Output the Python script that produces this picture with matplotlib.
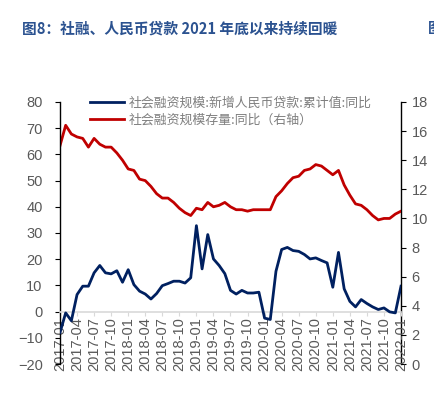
import matplotlib
matplotlib.use("Agg")
import matplotlib.pyplot as plt
import numpy as np
import pandas as pd

plt.rcParams["font.family"] = ["Liberation Sans", "Noto Sans CJK SC", "DejaVu Sans"]

# monthly, 2017-01 .. 2022-01
months = pd.date_range("2017-01", "2022-01", freq="MS").strftime("%Y-%m").tolist()

# 社会融资规模:新增人民币贷款:累计值:同比 (left axis, %)
loan_yoy = [
    -8.0, -0.5, -3.5, 6.5, 9.7, 9.7, 14.8, 17.6, 14.8, 14.4, 15.6, 11.2,
    16.0, 10.3, 7.8, 6.7, 4.8, 6.9, 9.9, 10.7, 11.6, 11.6, 10.9, 12.9,
    32.8, 16.3, 29.4, 20.1, 17.6, 14.5, 8.1, 6.7, 8.1, 7.1, 7.1, 7.4,
    -2.5, -3.0, 15.4, 23.7, 24.5, 23.3, 23.0, 21.8, 20.1, 20.5, 19.5, 18.6,
    9.3, 22.6, 8.7, 3.9, 1.8, 4.6, 3.1, 1.8, 0.8, 1.4, -0.1, -0.5, 9.7,
]

# 社会融资规模存量:同比 (right axis, %)
tsf_yoy = [
    15.0, 16.4, 15.8, 15.6, 15.5, 14.9, 15.5, 15.1, 14.9, 14.9, 14.5, 14.0,
    13.4, 13.3, 12.7, 12.6, 12.2, 11.7, 11.4, 11.4, 11.1, 10.7, 10.4, 10.2,
    10.7, 10.6, 11.1, 10.8, 10.9, 11.1, 10.8, 10.6, 10.6, 10.5, 10.6, 10.6,
    10.6, 10.6, 11.5, 11.9, 12.4, 12.8, 12.9, 13.3, 13.4, 13.7, 13.6, 13.3,
    13.0, 13.3, 12.3, 11.6, 11.0, 10.9, 10.6, 10.2, 9.9, 10.0, 10.0, 10.3, 10.5,
]

label_loan = "社会融资规模:新增人民币贷款:累计值:同比"
label_tsf = "社会融资规模存量:同比（右轴）"
title = "图8：社融、人民币贷款 2021 年底以来持续回暖"

BLUE = "#002060"
RED = "#C00000"
GRAY = "#595959"

fig = plt.figure(figsize=(4.35, 3.93), dpi=100)
ax = fig.add_axes([60 / 435, 1 - 364 / 393, 341 / 435, 262 / 393])
ax2 = ax.twinx()

# spine position first: moving it resets the tick labels
ax.spines["top"].set_visible(False)
ax.spines["right"].set_visible(False)
ax.spines["bottom"].set_position(("data", 0))
ax.spines["bottom"].set_color("#D9D9D9")
ax.spines["bottom"].set_linewidth(1.2)
ax.spines["left"].set_color("black")
ax.spines["left"].set_linewidth(1.0)
for s in ["top", "left", "bottom"]:
    ax2.spines[s].set_visible(False)
ax2.spines["right"].set_color("black")
ax2.spines["right"].set_linewidth(1.0)

x = np.arange(len(months))
l1, = ax.plot(x, loan_yoy, color=BLUE, lw=2.0, label=label_loan, zorder=3)
l2, = ax2.plot(x, tsf_yoy, color=RED, lw=2.0, label=label_tsf, zorder=3)

ax.set_xlim(0, len(months) - 1)
ax.set_ylim(-20, 80)
ax.set_yticks(np.arange(-20, 81, 10))
ax2.set_ylim(0, 18)
ax2.set_yticks(np.arange(0, 19, 2))

ax.set_xticks(x[::3])
ax.set_xticklabels(months[::3])

ax.tick_params(axis="x", colors="#D9D9D9", labelcolor=GRAY, labelsize=10.5,
               labelrotation=90, length=3, pad=1)
ax.tick_params(axis="y", colors="black", labelcolor=GRAY, labelsize=10.5, length=3.5, pad=9)
ax2.tick_params(axis="y", colors="black", labelcolor=GRAY, labelsize=10.5, length=3.5, pad=4)

ax.set_zorder(ax2.get_zorder() + 1)
ax.patch.set_visible(False)

leg = fig.legend(
    handles=[l1, l2],
    loc="upper left",
    bbox_to_anchor=(78 / 435, 1 - 85 / 393),
    frameon=False,
    handlelength=2.7,
    handletextpad=0.3,
    labelspacing=0.3,
    prop={"family": ["Noto Sans CJK SC", "DejaVu Sans"], "size": 9.3},
)
for t in leg.get_texts():
    t.set_color("#7F7F7F")

fig.text(22 / 435, 1 - 28 / 393, title, fontsize=10.6, fontweight="bold",
         color="#2B5290", va="center", ha="left",
         family=["Noto Sans CJK SC", "DejaVu Sans"])
fig.text(428 / 435, 1 - 28 / 393, "图", fontsize=10.6, fontweight="bold",
         color="#2B5290", va="center", ha="left",
         family=["Noto Sans CJK SC", "DejaVu Sans"])

fig.savefig("out.png", dpi=100)
